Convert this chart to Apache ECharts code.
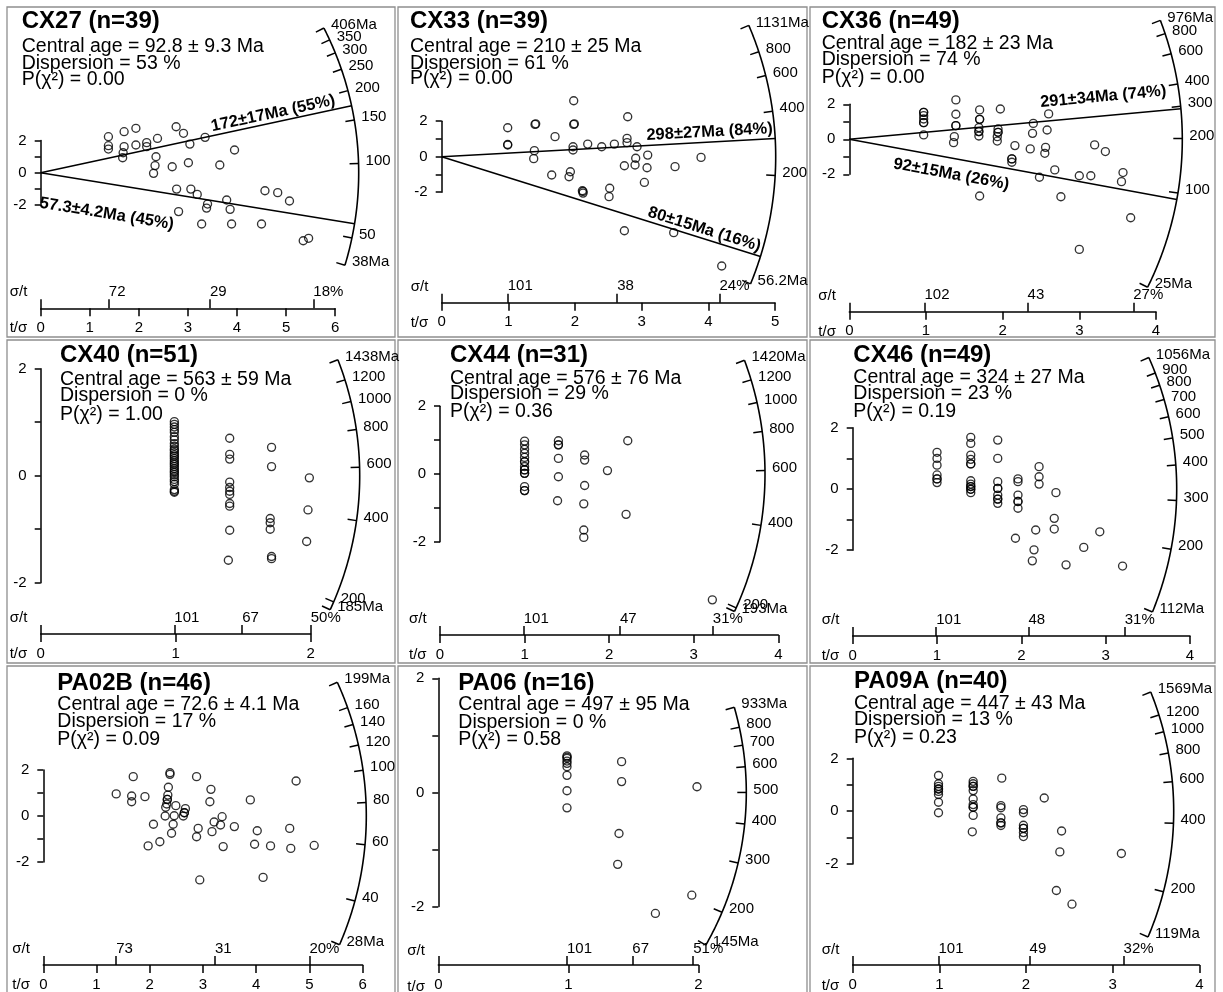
<!DOCTYPE html>
<html><head><meta charset="utf-8">
<script src="https://cdn.jsdelivr.net/npm/echarts@6/dist/echarts.min.js"></script>
<style>html,body{margin:0;padding:0;background:#fff}#c{width:1223px;height:992px}</style>
</head><body><div id="c"></div>
<script>
// ---------------- DATA ----------------
const cx27Text = ['CX27 (n=39)', 'Central age = 92.8 ± 9.3 Ma', 'Dispersion = 53 %', 'P(χ²) = 0.00'];
const cx27Points = [[1.38,2.24],[1.38,1.68],[1.38,1.47],[1.70,2.55],[1.70,1.62],[1.68,1.24],[1.67,0.93],[1.94,2.76],[1.94,1.72],[2.16,1.87],[2.16,1.62],[2.38,2.13],[2.35,0.99],[2.33,0.44],[2.30,-0.04],[2.68,0.37],[2.76,2.86],[2.91,2.45],[3.04,1.78],[3.01,0.62],[3.35,2.20],[3.65,0.48],[3.95,1.41],[2.77,-1.02],[3.06,-1.02],[3.19,-1.35],[3.40,-1.95],[3.38,-2.20],[3.79,-1.70],[3.86,-2.28],[2.81,-2.42],[3.28,-3.19],[3.89,-3.19],[4.50,-3.19],[4.57,-1.12],[4.83,-1.24],[5.07,-1.76],[5.35,-4.23],[5.46,-4.08]];
const cx27AgeTicks = [406,350,300,250,200,150,100,50,38];
const cx27SigmaTicks = [72,29,18];
const cx27Components = [172,57.3];
const cx27ComponentLabels = ['172±17Ma (55%)','57.3±4.2Ma (45%)'];

const cx33Text = ['CX33 (n=39)', 'Central age = 210 ± 25 Ma', 'Dispersion = 61 %', 'P(χ²) = 0.00'];
const cx33Points = [[0.99,1.63],[0.99,0.69],[1.40,1.82],[1.39,0.34],[1.38,-0.11],[1.70,1.13],[1.65,-1.03],[1.93,-0.85],[1.91,-1.13],[1.98,3.15],[1.98,1.82],[1.97,0.56],[1.97,0.38],[2.11,-1.92],[2.12,-2.05],[2.19,0.71],[2.40,0.56],[2.52,-1.78],[2.51,-2.25],[2.59,0.71],[2.79,2.25],[2.78,1.03],[2.78,0.79],[2.74,-0.51],[2.93,0.56],[2.91,-0.09],[2.90,-0.47],[3.09,0.09],[3.08,-0.62],[3.04,-1.45],[3.50,-0.56],[3.89,-0.04],[2.74,-4.17],[3.48,-4.28],[4.20,-6.16],[1.41,1.85],[1.99,1.85],[0.99,0.66],[2.12,-1.96]];
const cx33AgeTicks = [1131,800,600,400,200,56.2];
const cx33SigmaTicks = [101,38,24];
const cx33Components = [298,80];
const cx33ComponentLabels = ['298±27Ma (84%)','80±15Ma (16%)'];

const cx36Text = ['CX36 (n=49)', 'Central age = 182 ± 23 Ma', 'Dispersion = 74 %', 'P(χ²) = 0.00'];
const cx36Points = [[0.97,1.54],[0.97,1.35],[0.97,1.16],[0.97,0.95],[0.97,0.25],[1.39,2.25],[1.39,1.43],[1.39,0.78],[1.37,0.15],[1.36,-0.19],[1.70,1.68],[1.70,1.14],[1.69,0.67],[1.69,0.44],[1.69,0.19],[1.97,1.73],[1.94,0.59],[1.94,0.40],[1.93,0.15],[1.93,-0.10],[2.16,-0.36],[2.12,-1.12],[2.12,-1.31],[2.36,-0.55],[2.39,0.34],[2.40,0.91],[2.56,-0.46],[2.55,-0.80],[2.58,0.53],[2.60,1.45],[2.48,-2.17],[2.68,-1.75],[2.76,-3.28],[3.00,-2.08],[3.15,-2.08],[3.20,-0.32],[3.34,-0.70],[3.57,-1.90],[3.55,-2.42],[3.67,-4.48],[3.00,-6.29],[1.70,-3.24],[0.97,1.54],[1.39,0.78],[1.69,0.44],[1.94,0.40],[2.12,-1.12],[0.97,0.95],[1.70,1.14]];
const cx36AgeTicks = [976,800,600,400,300,200,100,25];
const cx36SigmaTicks = [102,43,27];
const cx36Components = [291,92];
const cx36ComponentLabels = ['291±34Ma (74%)','92±15Ma (26%)'];

const cx40Text = ['CX40 (n=51)', 'Central age = 563 ± 59 Ma', 'Dispersion = 0 %', 'P(χ²) = 1.00'];
const cx40Points = [[0.99,1.01],[0.99,0.96],[0.99,0.91],[0.99,0.86],[0.99,0.81],[0.99,0.73],[0.99,0.67],[0.99,0.60],[0.99,0.55],[0.99,0.50],[0.99,0.47],[0.99,0.43],[0.99,0.39],[0.99,0.36],[0.99,0.32],[0.99,0.28],[0.99,0.24],[0.99,0.21],[0.99,0.17],[0.99,0.13],[0.99,0.09],[0.99,0.06],[0.99,0.02],[0.99,-0.02],[0.99,-0.07],[0.99,-0.11],[0.99,-0.16],[0.99,-0.26],[0.99,-0.29],[0.99,-0.31],
 [1.40,0.70],[1.40,0.40],[1.40,0.31],[1.40,-0.12],[1.40,-0.22],[1.40,-0.29],[1.40,-0.35],[1.40,-0.52],[1.40,-0.57],[1.40,-1.02],[1.39,-1.58],
 [1.71,0.53],[1.71,0.17],[1.70,-0.80],[1.70,-0.88],[1.70,-1.00],[1.71,-1.51],[1.71,-1.55],
 [1.99,-0.04],[1.98,-0.64],[1.97,-1.23]];
const cx40AgeTicks = [1438,1200,1000,800,600,400,200,185];
const cx40SigmaTicks = [101,67,50];

const cx44Text = ['CX44 (n=31)', 'Central age = 576 ± 76 Ma', 'Dispersion = 29 %', 'P(χ²) = 0.36'];
const cx44Points = [[1.00,0.97],[1.00,0.86],[1.00,0.73],[1.00,0.61],[1.00,0.49],[1.00,0.36],[1.00,0.22],[1.00,0.12],[1.00,0.02],[1.00,-0.37],[1.00,-0.49],
 [1.40,0.98],[1.40,0.86],[1.40,0.46],[1.40,-0.08],[1.39,-0.79],
 [1.71,0.56],[1.71,0.41],[1.71,-0.34],[1.70,-0.88],[1.70,-1.65],[1.70,-1.87],
 [1.98,0.10],[2.22,0.98],[2.20,-1.19],[3.22,-3.71],
 [1.00,0.12],[1.00,0.02],[1.00,0.36],[1.40,0.86],[1.00,-0.49]];
const cx44AgeTicks = [1420,1200,1000,800,600,400,200,193];
const cx44SigmaTicks = [101,47,31];

const cx46Text = ['CX46 (n=49)', 'Central age = 324 ± 27 Ma', 'Dispersion = 23 %', 'P(χ²) = 0.19'];
const cx46Points = [[1.00,1.20],[1.00,1.00],[1.00,0.78],[1.00,0.46],[1.00,0.33],[1.00,0.21],
 [1.40,1.69],[1.40,1.49],[1.40,1.11],[1.40,0.97],[1.40,0.82],[1.40,0.27],[1.40,0.16],[1.40,0.08],[1.40,-0.01],[1.40,-0.12],
 [1.72,1.60],[1.72,1.00],[1.72,0.24],[1.72,0.02],[1.72,-0.20],[1.72,-0.33],[1.72,-0.47],
 [1.96,0.33],[1.96,0.24],[1.96,-0.20],[1.96,-0.41],[1.96,-0.63],
 [2.21,0.73],[2.21,0.40],[2.21,0.16],
 [2.41,-0.12],[2.39,-0.96],[2.39,-1.31],[2.17,-1.34],[1.93,-1.61],[2.15,-1.99],[2.13,-2.35],[2.53,-2.48],[2.74,-1.91],[2.93,-1.40],[3.20,-2.52],
 [1.40,0.08],[1.40,0.82],[1.00,0.33],[1.72,-0.33],[1.96,-0.41],[1.40,-0.01],[1.72,0.02]];
const cx46AgeTicks = [1056,900,800,700,600,500,400,300,200,112];
const cx46SigmaTicks = [101,48,31];

const pa02bText = ['PA02B (n=46)', 'Central age = 72.6 ± 4.1 Ma', 'Dispersion = 17 %', 'P(χ²) = 0.09'];
const pa02bPoints = [[1.37,0.96],[1.69,1.71],[1.66,0.87],[1.66,0.62],[1.91,0.84],[2.07,-0.36],[1.97,-1.30],[2.19,-1.12],[2.38,1.88],[2.38,1.81],[2.35,1.25],[2.34,0.91],[2.33,0.72],[2.32,0.52],[2.30,0.38],[2.29,0.00],[2.49,0.45],[2.46,0.01],[2.44,-0.36],[2.41,-0.75],[2.67,0.32],[2.65,0.14],[2.63,0.00],[2.88,1.71],[2.91,-0.54],[2.88,-0.90],[2.94,-2.78],[3.15,1.16],[3.13,0.62],[3.17,-0.68],[3.21,-0.26],[3.33,-0.39],[3.36,-0.03],[3.38,-1.33],[3.59,-0.46],[3.89,0.70],[3.97,-1.23],[4.02,-0.64],[4.13,-2.67],[4.27,-1.30],[4.63,-0.54],[4.65,-1.41],[4.75,1.52],[5.09,-1.28],[2.33,0.72],[2.65,0.14]];
const pa02bAgeTicks = [199,160,140,120,100,80,60,40,28];
const pa02bSigmaTicks = [73,31,20];

const pa06Text = ['PA06 (n=16)', 'Central age = 497 ± 95 Ma', 'Dispersion = 0 %', 'P(χ²) = 0.58'];
const pa06Points = [[0.99,0.64],[0.99,0.60],[0.99,0.55],[0.99,0.51],[0.99,0.45],[0.99,0.30],[0.99,0.03],[0.99,-0.27],[1.41,0.54],[1.41,0.19],[1.39,-0.72],[1.38,-1.26],[1.99,0.10],[1.95,-1.80],[1.67,-2.12],[0.99,0.62]];
const pa06AgeTicks = [933,800,700,600,500,400,300,200,145];
const pa06SigmaTicks = [101,67,51];

const pa09aText = ['PA09A (n=40)', 'Central age = 447 ± 43 Ma', 'Dispersion = 13 %', 'P(χ²) = 0.23'];
const pa09aPoints = [[0.99,1.35],[0.99,1.04],[0.99,0.94],[0.99,0.84],[0.99,0.75],[0.99,0.63],[0.99,0.34],[0.99,-0.06],
 [1.39,1.13],[1.39,1.04],[1.39,0.94],[1.39,0.78],[1.39,0.46],[1.39,0.25],[1.39,0.15],[1.39,-0.16],[1.38,-0.78],
 [1.72,1.25],[1.71,0.21],[1.71,0.13],[1.71,-0.25],[1.71,-0.44],[1.71,-0.54],
 [1.97,0.06],[1.97,-0.06],[1.97,-0.53],[1.97,-0.65],[1.97,-0.81],[1.97,-0.96],
 [2.21,0.50],[2.41,-0.75],[2.39,-1.54],[2.35,-3.00],[2.53,-3.52],[3.10,-1.60],
 [0.99,0.84],[1.39,0.94],[1.39,0.15],[1.97,-0.65],[1.71,-0.44]];
const pa09aAgeTicks = [1569,1200,1000,800,600,400,200,119];
const pa09aSigmaTicks = [101,49,32];

// ---------------- ASSEMBLY ----------------
const panels = [
  {text:cx27Text, points:cx27Points, ages:cx27AgeTicks, sig:cx27SigmaTicks, comps:cx27Components, compLabels:cx27ComponentLabels},
  {text:cx33Text, points:cx33Points, ages:cx33AgeTicks, sig:cx33SigmaTicks, comps:cx33Components, compLabels:cx33ComponentLabels},
  {text:cx36Text, points:cx36Points, ages:cx36AgeTicks, sig:cx36SigmaTicks, comps:cx36Components, compLabels:cx36ComponentLabels},
  {text:cx40Text, points:cx40Points, ages:cx40AgeTicks, sig:cx40SigmaTicks, comps:[], compLabels:[]},
  {text:cx44Text, points:cx44Points, ages:cx44AgeTicks, sig:cx44SigmaTicks, comps:[], compLabels:[]},
  {text:cx46Text, points:cx46Points, ages:cx46AgeTicks, sig:cx46SigmaTicks, comps:[], compLabels:[]},
  {text:pa02bText, points:pa02bPoints, ages:pa02bAgeTicks, sig:pa02bSigmaTicks, comps:[], compLabels:[]},
  {text:pa06Text, points:pa06Points, ages:pa06AgeTicks, sig:pa06SigmaTicks, comps:[], compLabels:[]},
  {text:pa09aText, points:pa09aPoints, ages:pa09aAgeTicks, sig:pa09aSigmaTicks, comps:[], compLabels:[]}
];

// layout (pixels) and plot reference age for the radial scale
const layout = [
  {ox:40.7, oy:172.7, sx:49.07, sy:16.08, xmax:6, axisY:308.3, R:318, ref:92, tx:21.7, ty:[21.7,46.7,63.3,80],
   comp:[{along:303,perp:9,align:'right'},{along:4,perp:-30,align:'left'}]},
  {ox:441.7, oy:156.7, sx:66.67, sy:17.75, xmax:5, axisY:302.7, R:334, ref:245, tx:410, ty:[21.7,46.7,63.3,78.3],
   comp:[{along:332,perp:10,align:'right'},{along:331,perp:9,align:'right'}]},
  {ox:849.3, oy:139.3, sx:76.67, sy:17.5, xmax:4, axisY:311.7, R:333, ref:198, tx:821.7, ty:[21.7,43.3,60,77.3],
   comp:[{along:320,perp:19,align:'right'},{along:48,perp:-16,align:'left'}]},
  {ox:40.7, oy:475.7, sx:135, sy:53.5, xmax:2, axisY:634, R:319, ref:563, tx:60, ty:[355,379.3,395.7,415], comp:[]},
  {ox:440, oy:474, sx:84.58, sy:33.92, xmax:4, axisY:635, R:325, ref:585, tx:450, ty:[355,378.3,394,411.7], comp:[]},
  {ox:852.7, oy:489, sx:84.33, sy:30.58, xmax:4, axisY:636, R:324, ref:329, tx:853.3, ty:[355,377.7,393.3,411.7], comp:[]},
  {ox:43.3, oy:816, sx:53.22, sy:23, xmax:6, axisY:965, R:323, ref:73, tx:57.3, ty:[683.3,704.3,721.7,740], comp:[]},
  {ox:438.3, oy:793.3, sx:130, sy:57.5, xmax:2, axisY:966.7, R:308, ref:500, tx:458.3, ty:[683.3,705,722.7,739.3], comp:[]},
  {ox:852.7, oy:811.7, sx:86.67, sy:26.67, xmax:4, axisY:966, R:321, ref:450, tx:854, ty:[681.7,703.3,720,737.3], comp:[]}
];
const cols = [[7,395],[398,807],[810,1215]];
const rows = [[7,337],[340,663],[666,1000]];

const FONT = '"Liberation Sans", Arial, Helvetica, sans-serif';
const K = 1.05;
const grids = [], xAxes = [], yAxes = [], series = [], graphics = [];

rows.forEach(r => cols.forEach(c => {
  graphics.push({type:'rect', shape:{x:c[0], y:r[0], width:c[1]-c[0], height:r[1]-r[0]},
    style:{fill:'none', stroke:'#8f8f8f', lineWidth:1.3}, silent:true});
}));

function txt(x, y, text, font, align) {
  return {type:'text', x:x, y:y, silent:true, z:50,
    style:{text:text, font:font, fill:'#000', align:align||'left', verticalAlign:'middle', textAlign:align||'left', textVerticalAlign:'middle'}};
}

panels.forEach((p, i) => {
  const L = layout[i];
  const top = L.oy - 2 * L.sy, h = 4 * L.sy;
  grids.push({left:L.ox, top:top, width:L.xmax * L.sx, height:h, containLabel:false});
  const offset = L.axisY - (top + h);
  xAxes.push({gridIndex:i, type:'value', min:0, max:L.xmax, interval:1, position:'bottom', offset:offset,
    axisLine:{show:true, onZero:false, lineStyle:{color:'#000', width:1.5}},
    axisTick:{show:true, length:8, lineStyle:{color:'#000', width:1.5}},
    axisLabel:{show:true, margin:12, color:'#000', fontSize:15, fontFamily:FONT},
    splitLine:{show:false}});
  const sigVals = p.sig.map(v => 100 / v);
  xAxes.push({gridIndex:i, type:'value', min:0, max:L.xmax, position:'bottom', offset:offset,
    axisLine:{show:false, onZero:false},
    axisTick:{show:true, inside:true, length:9, customValues:[0].concat(sigVals), lineStyle:{color:'#000', width:1.5}},
    axisLabel:{show:true, inside:true, margin:9, customValues:sigVals, align:'left', color:'#000', fontSize:15, fontFamily:FONT,
      formatter: function (v) {
        const k = sigVals.findIndex(s => Math.abs(s - v) < 1e-6);
        return k < 0 ? '' : (p.sig[k] + (k === p.sig.length - 1 ? '%' : ''));
      }},
    splitLine:{show:false}});
  yAxes.push({gridIndex:i, type:'value', min:-2, max:2, interval:1, position:'left',
    axisLine:{show:true, onZero:false, lineStyle:{color:'#000', width:1.5}},
    axisTick:{show:true, length:6, lineStyle:{color:'#000', width:1.5}},
    axisLabel:{show:true, margin:14, color:'#000', fontSize:15, fontFamily:FONT,
      formatter: v => (Math.round(v) % 2 === 0 ? String(v) : '')},
    splitLine:{show:false}});

  series.push({type:'scatter', xAxisIndex:2 * i, yAxisIndex:i, data:p.points, symbol:'circle', symbolSize:8,
    clip:false, silent:true, animation:false, z:3,
    itemStyle:{color:'rgba(0,0,0,0)', borderColor:'#000', borderWidth:1.35}});

  series.push({type:'custom', xAxisIndex:2 * i, yAxisIndex:i, data:[[0, 0]], clip:false, silent:true, animation:false, z:4,
    renderItem: function (params, api) {
      const o = api.coord([0, 0]);
      const px = api.coord([1, 0])[0] - o[0];
      const py = o[1] - api.coord([0, 1])[1];
      const dir = age => {
        const s = K * Math.log(age / L.ref);
        const dx = px, dy = -py * s, n = Math.hypot(dx, dy);
        return [dx / n, dy / n];
      };
      const ch = [];
      const ages = p.ages;
      const dTop = dir(Math.max.apply(null, ages)), dBot = dir(Math.min.apply(null, ages));
      const a0 = Math.atan2(dTop[1], dTop[0]), a1 = Math.atan2(dBot[1], dBot[0]);
      const pts = [];
      for (let k = 0; k <= 120; k++) {
        const a = a0 + (a1 - a0) * k / 120;
        pts.push([o[0] + L.R * Math.cos(a), o[1] + L.R * Math.sin(a)]);
      }
      ch.push({type:'polyline', shape:{points:pts}, style:{stroke:'#000', lineWidth:1.6, fill:'none'}});
      ages.forEach((age, k) => {
        const d = dir(age);
        ch.push({type:'line', shape:{x1:o[0] + d[0] * (L.R - 9), y1:o[1] + d[1] * (L.R - 9), x2:o[0] + d[0] * L.R, y2:o[1] + d[1] * L.R},
          style:{stroke:'#000', lineWidth:1.5}});
        const end = (k === 0 || k === ages.length - 1);
        ch.push({type:'text', x:o[0] + d[0] * L.R + 7, y:o[1] + d[1] * L.R - 3,
          style:{text:String(age) + (end ? 'Ma' : ''), font:'15px ' + FONT, fill:'#000', align:'left', verticalAlign:'middle'}});
      });
      p.comps.forEach((age, k) => {
        const d = dir(age);
        ch.push({type:'line', shape:{x1:o[0], y1:o[1], x2:o[0] + d[0] * L.R, y2:o[1] + d[1] * L.R},
          style:{stroke:'#000', lineWidth:1.5}});
        const c = L.comp[k];
        const n = [d[1], -d[0]];
        ch.push({type:'text', x:o[0] + d[0] * c.along + n[0] * c.perp, y:o[1] + d[1] * c.along + n[1] * c.perp,
          rotation:Math.atan2(-d[1], d[0]),
          style:{text:p.compLabels[k], font:'bold 16.5px ' + FONT, fill:'#000', align:c.align, verticalAlign:'middle'}});
      });
      return {type:'group', children:ch};
    }});

  graphics.push(txt(L.tx, L.ty[0], p.text[0], 'bold 24px ' + FONT));
  graphics.push(txt(L.tx, L.ty[1], p.text[1], '19.5px ' + FONT));
  graphics.push(txt(L.tx, L.ty[2], p.text[2], '19.5px ' + FONT));
  graphics.push(txt(L.tx, L.ty[3], p.text[3], '19.5px ' + FONT));
  graphics.push(txt(L.ox - 31, L.axisY - 16, 'σ/t', '15px ' + FONT));
  graphics.push(txt(L.ox - 31, L.axisY + 20, 't/σ', '15px ' + FONT));
});

const chart = echarts.init(document.getElementById('c'), null, {renderer:'canvas'});
chart.setOption({
  animation:false,
  backgroundColor:'#fff',
  grid:grids, xAxis:xAxes, yAxis:yAxes, series:series,
  graphic:{elements:graphics}
});
</script></body></html>
